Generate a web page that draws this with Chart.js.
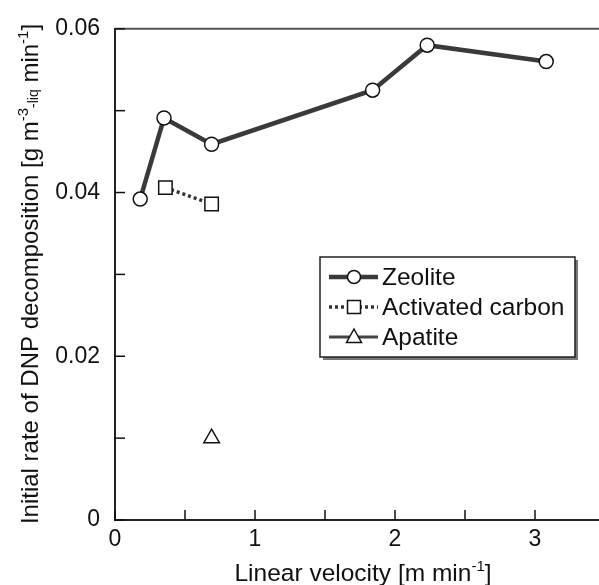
<!DOCTYPE html>
<html><head><meta charset="utf-8">
<script src="https://cdn.jsdelivr.net/npm/chart.js@4"></script>
<style>html,body{margin:0;padding:0;background:#fff}#wrap{width:599px;height:585px}</style>
</head><body><div id="wrap"><canvas id="c" width="599" height="585"></canvas></div>
<script>
const zeoliteX=[0.18,0.35,0.69,1.84,2.23,3.08];
const zeoliteY=[0.0392,0.0491,0.0459,0.0525,0.0580,0.0560];
const carbonX=[0.36,0.69];
const carbonY=[0.0406,0.0386];
const apatiteX=[0.69];
const apatiteY=[0.0100];
const xTickValues=[0,0.5,1,1.5,2,2.5,3];
const xTickLabels=['0','','1','','2','','3'];
const yTickValues=[0,0.01,0.02,0.03,0.04,0.05,0.06];
const yTickLabels=['0','','0.02','','0.04','','0.06'];
const seriesNames=['Zeolite','Activated carbon','Apatite'];

const FONT='"Liberation Sans", Arial, Helvetica, sans-serif';
const toPts=(xs,ys)=>xs.map((x,i)=>({x:x,y:ys[i]}));

const datasets=[
  {label:seriesNames[0],data:toPts(zeoliteX,zeoliteY),borderColor:'#3a3a3a',borderWidth:4.5,
   pointStyle:'circle',pointRadius:7,pointBackgroundColor:'#fff',pointBorderColor:'#111',pointBorderWidth:1.5,showLine:true},
  {label:seriesNames[1],data:toPts(carbonX,carbonY),borderColor:'#333',borderWidth:3.5,borderDash:[3,3],
   pointStyle:'rect',pointRadius:9.5,pointBackgroundColor:'#fff',pointBorderColor:'#111',pointBorderWidth:1.5,showLine:true},
  {label:seriesNames[2],data:toPts(apatiteX,apatiteY),borderColor:'#444',borderWidth:3,
   pointStyle:'triangle',pointRadius:9,pointBackgroundColor:'#fff',pointBorderColor:'#111',pointBorderWidth:1.5,showLine:true}
];

function drawRich(ctx,segs){
  let w=0;
  segs.forEach(s=>{ctx.font=s.s+'px '+FONT; s.w=ctx.measureText(s.t).width; w+=s.w;});
  let x=-w/2;
  segs.forEach(s=>{ctx.font=s.s+'px '+FONT; ctx.fillText(s.t,x,s.dy||0); x+=s.w;});
}

const decor={
  id:'decor',
  afterDraw(chart){
    const ctx=chart.ctx, xs=chart.scales.x, ys=chart.scales.y, a=chart.chartArea;
    ctx.save();
    // top frame
    ctx.strokeStyle='#555'; ctx.lineWidth=2;
    ctx.beginPath(); ctx.moveTo(a.left,a.top); ctx.lineTo(a.right,a.top); ctx.stroke();
    // inward ticks
    ctx.strokeStyle='#111'; ctx.lineWidth=1.5;
    xTickValues.forEach(v=>{const p=xs.getPixelForValue(v); ctx.beginPath(); ctx.moveTo(p,a.bottom); ctx.lineTo(p,a.bottom-10); ctx.stroke();});
    yTickValues.forEach(v=>{const p=ys.getPixelForValue(v); ctx.beginPath(); ctx.moveTo(a.left,p); ctx.lineTo(a.left+10,p); ctx.stroke();});
    // axis titles
    ctx.fillStyle='#111'; ctx.textBaseline='alphabetic';
    ctx.save(); ctx.translate(38,274); ctx.rotate(-Math.PI/2);
    drawRich(ctx,[{t:'Initial rate of DNP decomposition [g m',s:24},{t:'-3',s:15,dy:-10},{t:'-liq',s:14,dy:0},{t:' min',s:24},{t:'-1',s:15,dy:-10},{t:']',s:24}]);
    ctx.restore();
    ctx.save(); ctx.translate(363,581);
    drawRich(ctx,[{t:'Linear velocity [m min',s:24.5},{t:'-1',s:15,dy:-10},{t:']',s:24.5}]);
    ctx.restore();
    // legend
    const bx=320,by=257,bw=255,bh=100;
    ctx.fillStyle='#777'; ctx.fillRect(bx+3,by+3,bw,bh);
    ctx.fillStyle='#fff'; ctx.fillRect(bx,by,bw,bh);
    ctx.strokeStyle='#222'; ctx.lineWidth=1.5; ctx.strokeRect(bx,by,bw,bh);
    const rows=[277,307,337];
    chart.data.datasets.forEach((d,i)=>{
      const y=rows[i];
      ctx.strokeStyle=d.borderColor; ctx.lineWidth=d.borderWidth;
      ctx.setLineDash(d.borderDash||[]);
      ctx.beginPath(); ctx.moveTo(bx+9,y); ctx.lineTo(bx+58,y); ctx.stroke();
      ctx.setLineDash([]);
      const cx=bx+34;
      ctx.fillStyle='#fff'; ctx.strokeStyle='#111'; ctx.lineWidth=1.5;
      ctx.beginPath();
      if(d.pointStyle==='circle'){ctx.arc(cx,y,6.5,0,Math.PI*2);}
      else if(d.pointStyle==='rect'){ctx.rect(cx-6.5,y-6.5,13,13);}
      else {ctx.moveTo(cx,y-8); ctx.lineTo(cx+7.5,y+5.5); ctx.lineTo(cx-7.5,y+5.5); ctx.closePath();}
      ctx.fill(); ctx.stroke();
      ctx.fillStyle='#111'; ctx.font='24.5px '+FONT; ctx.textBaseline='middle'; ctx.textAlign='left';
      ctx.fillText(d.label,bx+62,y+1);
    });
    ctx.restore();
  }
};

new Chart(document.getElementById('c'),{
  type:'scatter',
  data:{datasets:datasets},
  options:{
    responsive:false,animation:false,devicePixelRatio:1,
    layout:{autoPadding:false,padding:{top:26,right:0,left:0,bottom:0}},
    plugins:{legend:{display:false},tooltip:{enabled:false}},
    scales:{
      x:{type:'linear',min:0,max:3.457,
        afterBuildTicks:s=>{s.ticks=xTickValues.map(v=>({value:v}));},
        afterFit:s=>{s.height=65;},
        ticks:{autoSkip:false,maxRotation:0,padding:6,color:'#111',font:{family:FONT,size:23},callback:(v,i)=>xTickLabels[i]},
        grid:{display:false,drawTicks:false},
        border:{display:true,color:'#222',width:2}},
      y:{type:'linear',min:0,max:0.06,
        afterBuildTicks:s=>{s.ticks=yTickValues.map(v=>({value:v}));},
        afterFit:s=>{s.width=115;},
        ticks:{autoSkip:false,padding:15,color:'#111',font:{family:FONT,size:23},callback:(v,i)=>yTickLabels[i]},
        grid:{display:false,drawTicks:false},
        border:{display:true,color:'#222',width:2}}
    }
  },
  plugins:[decor]
});
</script>
</body></html>
